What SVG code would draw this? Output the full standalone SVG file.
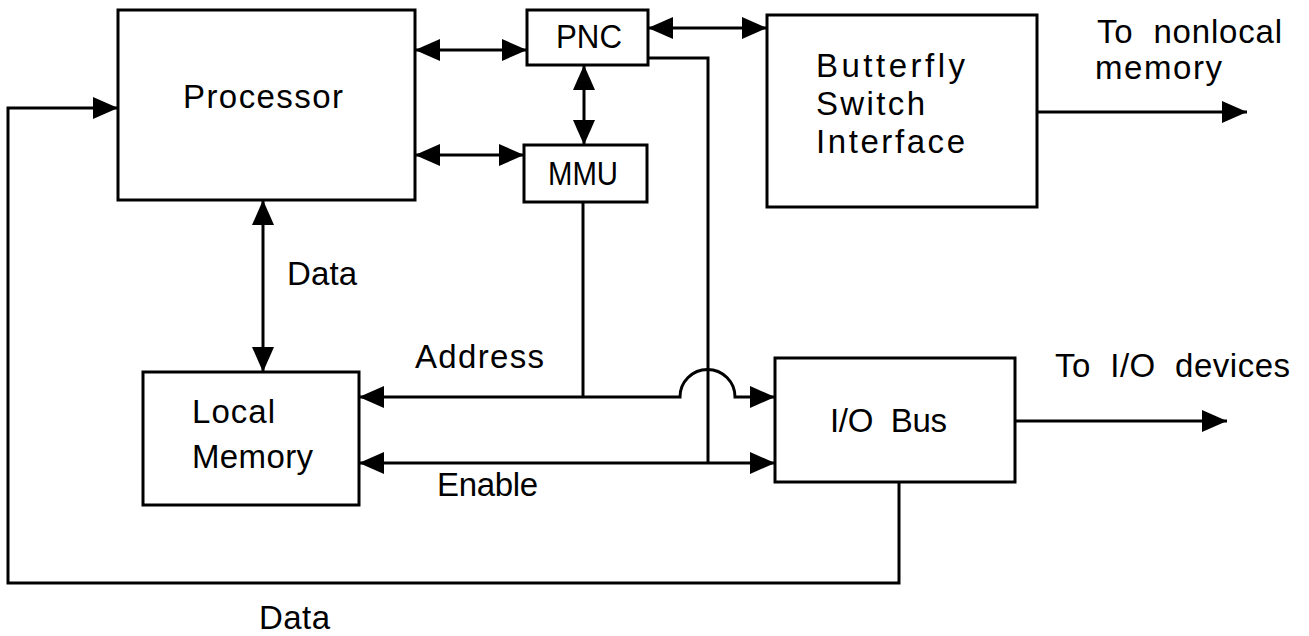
<svg xmlns="http://www.w3.org/2000/svg" width="1309" height="636" viewBox="0 0 1309 636">
<style>
.box{fill:#fff;stroke:#000;stroke-width:3}
.ln{fill:none;stroke:#000;stroke-width:3}
text{font-family:"Liberation Sans",Arial,sans-serif;font-size:33px;fill:#000;white-space:pre}
</style>
<defs>
<marker id="ah" markerUnits="userSpaceOnUse" markerWidth="25" markerHeight="22" viewBox="0 0 25 22" refX="25" refY="11" orient="auto-start-reverse">
<path d="M0,0 L25,11 L0,22 z" fill="#000"/>
</marker>
</defs>
<rect width="1309" height="636" fill="#fff"/>
<g id="connectors">
<line class="ln" x1="415" y1="50" x2="527" y2="50" marker-start="url(#ah)" marker-end="url(#ah)"/>
<line class="ln" x1="415" y1="155" x2="524" y2="155" marker-start="url(#ah)" marker-end="url(#ah)"/>
<line class="ln" x1="584" y1="65" x2="584" y2="145" marker-start="url(#ah)" marker-end="url(#ah)"/>
<line class="ln" x1="648" y1="28" x2="767" y2="28" marker-start="url(#ah)" marker-end="url(#ah)"/>
<line class="ln" x1="1037" y1="112" x2="1247" y2="112" marker-end="url(#ah)"/>
<line class="ln" x1="263" y1="200" x2="263" y2="372" marker-start="url(#ah)" marker-end="url(#ah)"/>
<line class="ln" x1="583" y1="202" x2="583" y2="397"/>
<line class="ln" x1="583" y1="397" x2="359" y2="397" marker-end="url(#ah)"/>
<path class="ln" d="M583,397 H680 A27.5,27.5 0 0 1 735,397 H775" marker-end="url(#ah)"/>
<polyline class="ln" points="648,58 708,58 708,463"/>
<line class="ln" x1="359" y1="463" x2="775" y2="463" marker-start="url(#ah)" marker-end="url(#ah)"/>
<line class="ln" x1="1015" y1="421" x2="1227" y2="421" marker-end="url(#ah)"/>
<polyline class="ln" points="899,482 899,583 8,583 8,108 118,108" marker-end="url(#ah)"/>
</g>
<g id="processor">
<rect class="box" x="118" y="10" width="297" height="190"/>
<text x="183" y="108" font-size="28" textLength="160" lengthAdjust="spacing">Processor</text>
</g>
<g id="pnc">
<rect class="box" x="527" y="10" width="121" height="55"/>
<text x="556" y="48" textLength="66" lengthAdjust="spacingAndGlyphs">PNC</text>
</g>
<g id="mmu">
<rect class="box" x="524" y="145" width="123" height="57"/>
<text x="548" y="185" textLength="70" lengthAdjust="spacingAndGlyphs">MMU</text>
</g>
<g id="butterfly">
<rect class="box" x="767" y="15" width="270" height="192"/>
<text x="816" y="77" textLength="149" lengthAdjust="spacing">Butterfly</text>
<text x="816" y="115" textLength="109" lengthAdjust="spacing">Switch</text>
<text x="816" y="153" textLength="149" lengthAdjust="spacing">Interface</text>
</g>
<g id="local-memory">
<rect class="box" x="143" y="372" width="216" height="133"/>
<text x="192" y="423" textLength="83" lengthAdjust="spacing">Local</text>
<text x="192" y="468" textLength="121" lengthAdjust="spacing">Memory</text>
</g>
<g id="io-bus">
<rect class="box" x="775" y="358" width="240" height="124"/>
<text x="830" y="432" textLength="117" lengthAdjust="spacing">I/O  Bus</text>
</g>
<g id="labels">
<text x="1097" y="43" font-size="31" textLength="185" lengthAdjust="spacing">To  nonlocal</text>
<text x="1095" y="79" font-size="31" textLength="127" lengthAdjust="spacing">memory</text>
<text x="287" y="285" textLength="70" lengthAdjust="spacing">Data</text>
<text x="415" y="368" textLength="129" lengthAdjust="spacing">Address</text>
<text x="437" y="496" textLength="101" lengthAdjust="spacing">Enable</text>
<text x="1055" y="377" textLength="235" lengthAdjust="spacing">To  I/O  devices</text>
<text x="259" y="629" textLength="71" lengthAdjust="spacing">Data</text>
</g>
</svg>
